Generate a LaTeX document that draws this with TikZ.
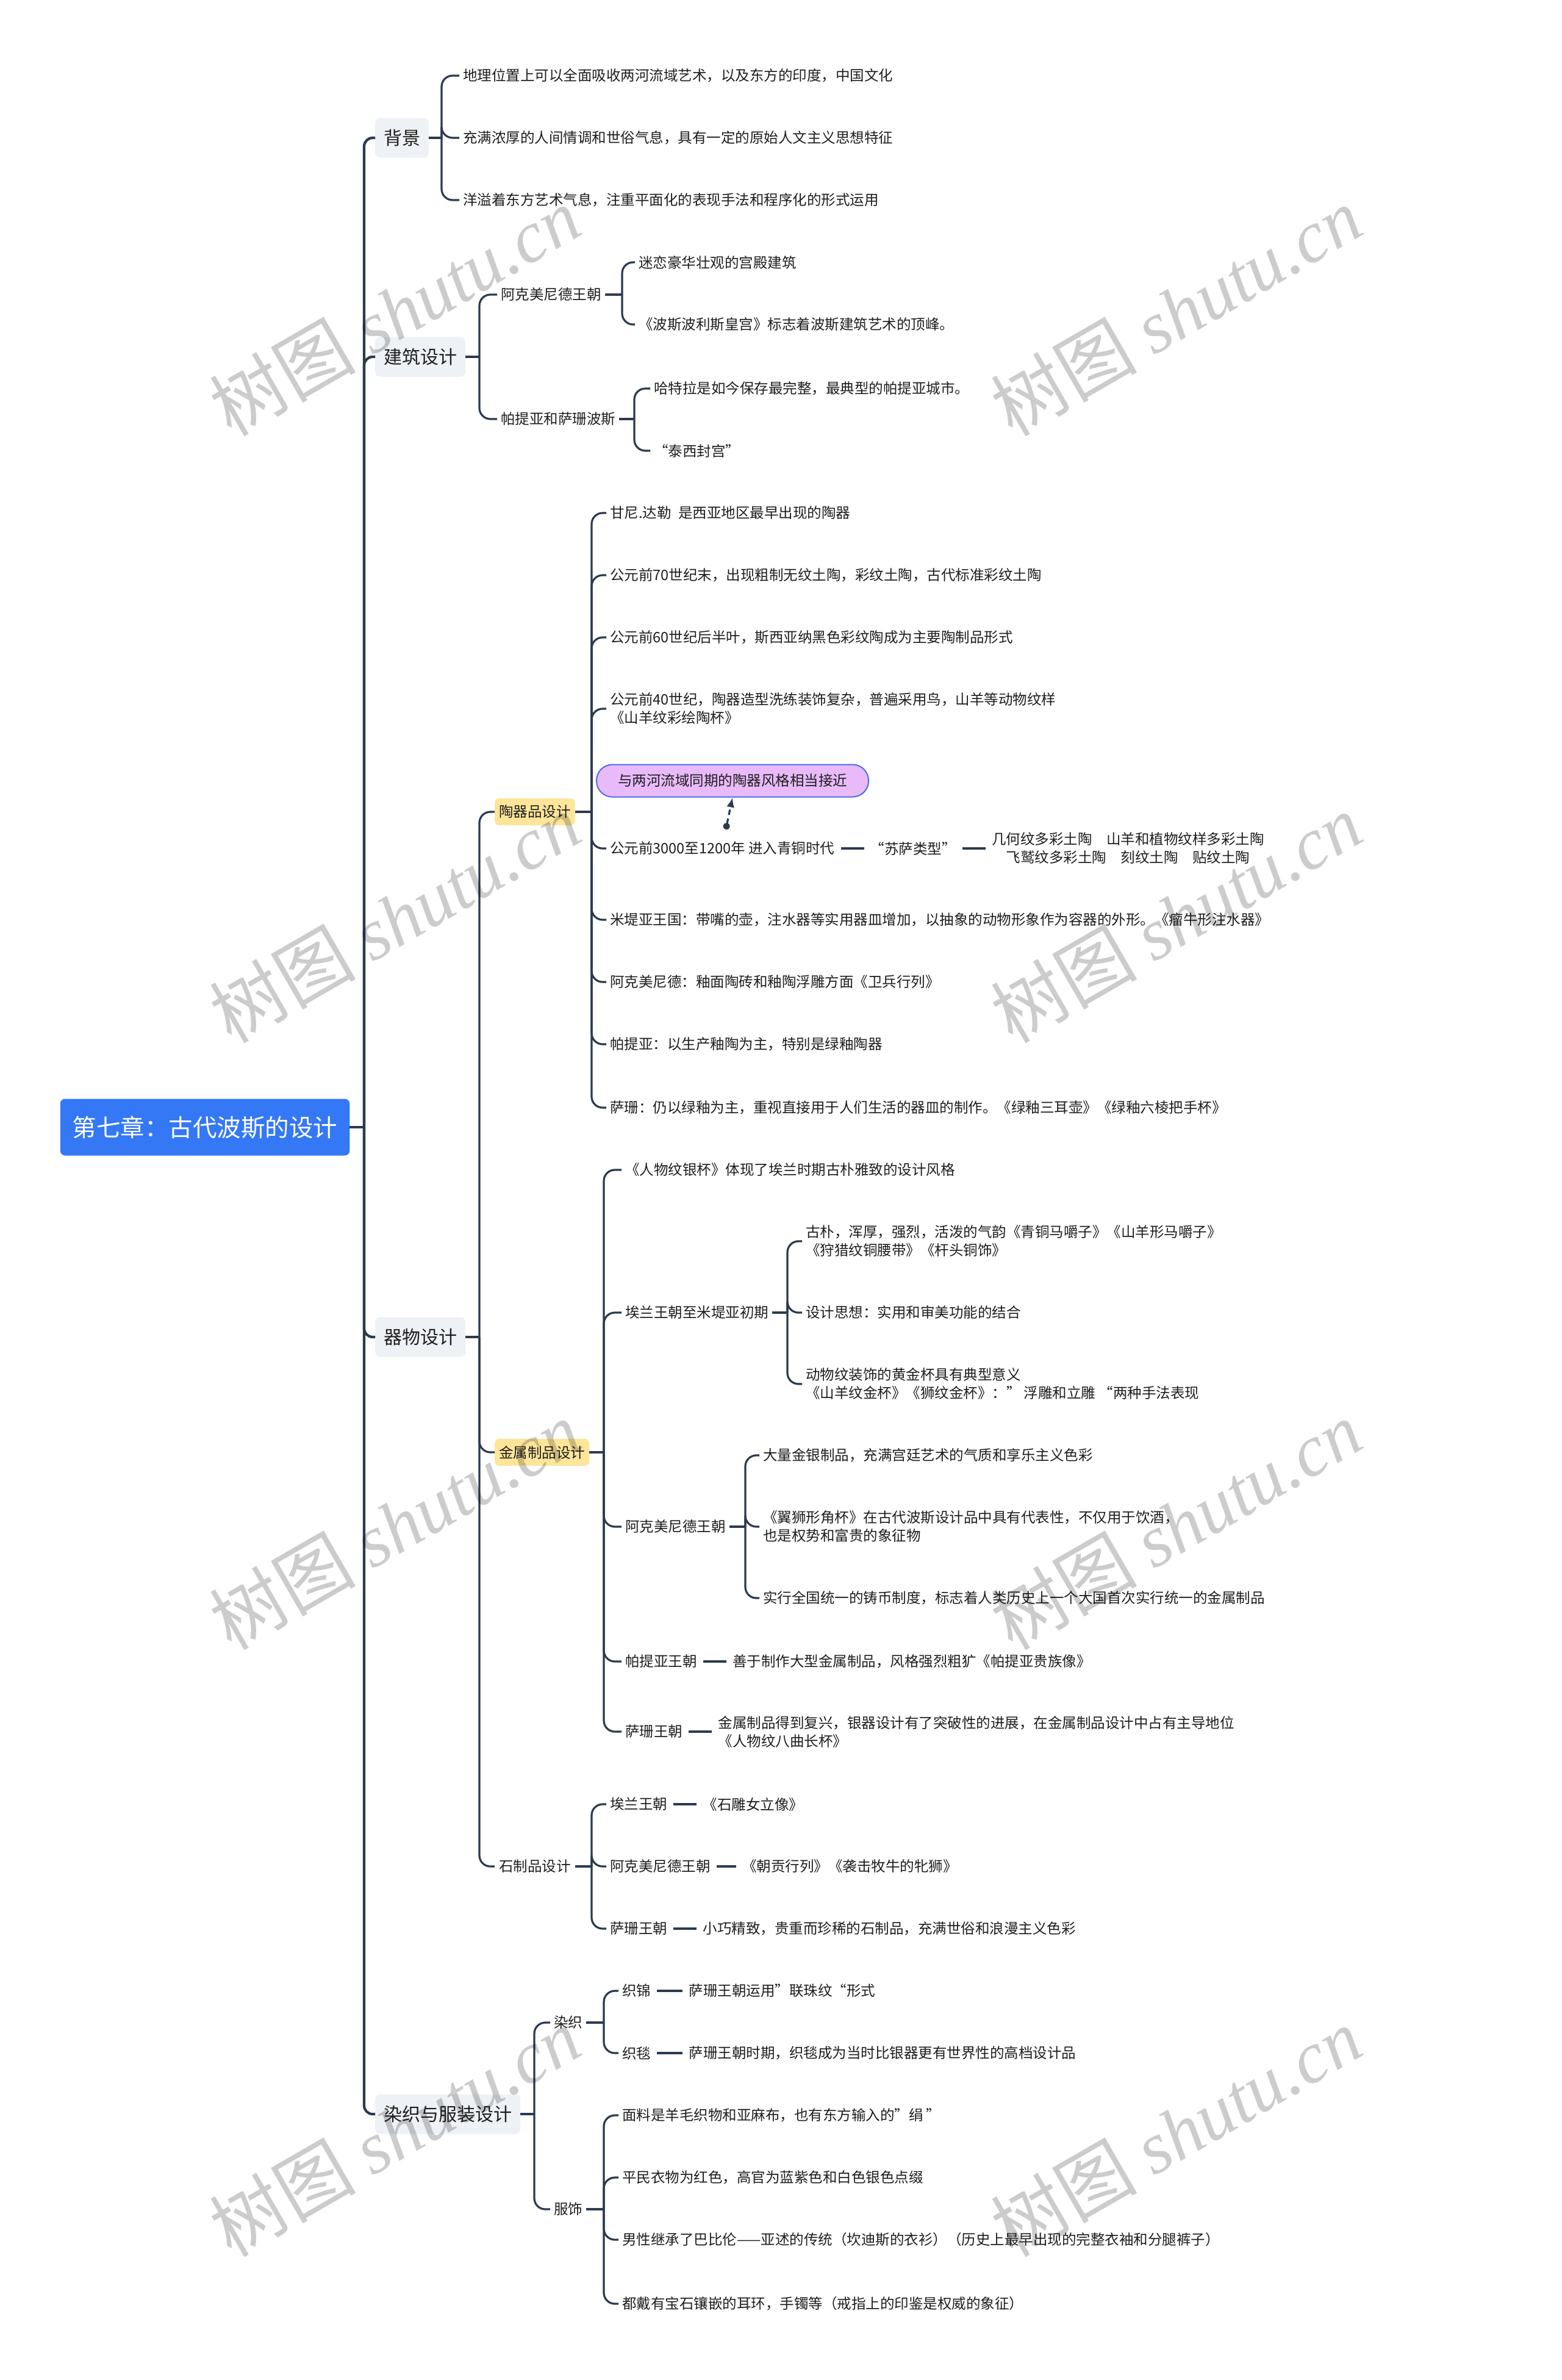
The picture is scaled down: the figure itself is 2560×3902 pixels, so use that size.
\documentclass[tikz,border=0pt]{standalone}
\usepackage{fontspec}
\setmainfont{Noto Sans CJK SC}
\newfontfamily\wmlatin{Liberation Serif}
\usetikzlibrary{arrows.meta,positioning}
\definecolor{rootblue}{RGB}{52,120,246}
\definecolor{topgrey}{RGB}{238,241,245}
\definecolor{potyellow}{RGB}{253,229,153}
\definecolor{notepurple}{RGB}{233,186,250}
\definecolor{noteedge}{RGB}{78,108,228}
\definecolor{linkdark}{RGB}{44,58,78}
\definecolor{inkdark}{RGB}{30,30,30}

\begin{document}
\begin{tikzpicture}[x=1pt,y=-1pt,
  every node/.style={font=\fontsize{23.5}{30}\selectfont,text=inkdark},
  root/.style={fill=rootblue,text=white,rounded corners=8pt,font=\fontsize{39.5}{46}\selectfont,inner xsep=20pt,minimum height=93pt},
  topic/.style={fill=topgrey,rounded corners=8pt,font=\fontsize{30}{36}\selectfont,inner xsep=14pt,minimum height=65pt,anchor=west},
  sub/.style={fill=potyellow,rounded corners=7pt,inner xsep=7pt,minimum height=44pt,anchor=west},
  item/.style={anchor=west,inner sep=6pt,align=left},
  note/.style={fill=notepurple,draw=noteedge,line width=2pt,rounded corners=26pt,inner xsep=35pt,minimum height=53pt},
  ln/.style={linkdark,line width=3.2pt},
  br/.style={linkdark,line width=3.2pt,rounded corners=18pt},
  trunk/.style={linkdark,line width=4.2pt,rounded corners=14pt},
  dashln/.style={linkdark,line width=3.2pt,shorten <=4pt,shorten >=4pt},
  wm/.style={black,opacity=0.2,rotate=30,font=\fontsize{120}{120}\selectfont}]
\fill[white] (0,0) rectangle (2560,3902);
\useasboundingbox (0,0) rectangle (2560,3902);

% root and main topics
\node[root] (ch7) at (336,1848) {第七章：古代波斯的设计};
\node[topic] (bg) at (615,226) {背景};
\node[topic] (arch) at (615,585) {建筑设计};
\node[topic] (ware) at (615,2192) {器物设计};
\node[topic] (tex) at (615,3466) {染织与服装设计};
\coordinate (jch7) at (597,1848);

% background
\coordinate (jbg) at (724,226);
\node[item] (bg1) at (753,124) {地理位置上可以全面吸收两河流域艺术，以及东方的印度，中国文化};
\node[item] (bg2) at (753,226) {充满浓厚的人间情调和世俗气息，具有一定的原始人文主义思想特征};
\node[item] (bg3) at (753,328) {洋溢着东方艺术气息，注重平面化的表现手法和程序化的形式运用};

% architecture
\coordinate (jarch) at (786,585);
\node[item] (ach) at (815,483) {阿克美尼德王朝};
\node[item] (pas) at (815,687) {帕提亚和萨珊波斯};
\coordinate (jach) at (1020,483);
\node[item] (ach1) at (1041,430) {迷恋豪华壮观的宫殿建筑};
\node[item] (ach2) at (1041,532) {《波斯波利斯皇宫》标志着波斯建筑艺术的顶峰。};
\coordinate (jpas) at (1040,687);
\node[item] (pas1) at (1066,637) {哈特拉是如今保存最完整，最典型的帕提亚城市。};
\node[item] (pas2) at (1066,739) {“泰西封宫”};

% ware design
\coordinate (jware) at (786,2192);
\node[sub] (pot) at (811,1331) {陶器品设计};
\node[sub] (metal) at (811,2381) {金属制品设计};
\node[item,inner xsep=7pt] (stone) at (811,3060) {石制品设计};

% pottery
\coordinate (jpot) at (970,1331);
\node[item] (pot1) at (994,841) {甘尼.达勒\hspace{0.5em}是西亚地区最早出现的陶器};
\node[item] (pot2) at (994,943) {公元前70世纪末，出现粗制无纹土陶，彩纹土陶，古代标准彩纹土陶};
\node[item] (pot3) at (994,1045) {公元前60世纪后半叶，斯西亚纳黑色彩纹陶成为主要陶制品形式};
\node[item] (pot4) at (994,1162) {公元前40世纪，陶器造型洗练装饰复杂，普遍采用鸟，山羊等动物纹样\\《山羊纹彩绘陶杯》};
\node[item] (pot5) at (994,1391) {公元前3000至1200年 进入青铜时代};
\node[item,right=46pt of pot5] (pot5a) {“苏萨类型”};
\node[item,right=46pt of pot5a,align=center] (pot5b) {几何纹多彩土陶　山羊和植物纹样多彩土陶\\飞鹫纹多彩土陶　刻纹土陶　贴纹土陶};
\node[note] (potnote) at (1201,1280) {与两河流域同期的陶器风格相当接近};
\coordinate (potdot) at (1190,1360);
\node[item] (pot6) at (994,1508) {米堤亚王国：带嘴的壶，注水器等实用器皿增加，以抽象的动物形象作为容器的外形。《瘤牛形注水器》};
\node[item] (pot7) at (994,1610) {阿克美尼德：釉面陶砖和釉陶浮雕方面《卫兵行列》};
\node[item] (pot8) at (994,1712) {帕提亚：以生产釉陶为主，特别是绿釉陶器};
\node[item] (pot9) at (994,1816) {萨珊：仍以绿釉为主，重视直接用于人们生活的器皿的制作。《绿釉三耳壶》《绿釉六棱把手杯》};

% metal
\coordinate (jmetal) at (990,2381);
\node[item] (met1) at (1019,1918) {《人物纹银杯》体现了埃兰时期古朴雅致的设计风格};
\node[item] (met2) at (1019,2152) {埃兰王朝至米堤亚初期};
\coordinate (jmet2) at (1291,2152);
\node[item] (met2a) at (1315,2035) {古朴，浑厚，强烈，活泼的气韵《青铜马嚼子》《山羊形马嚼子》\\《狩猎纹铜腰带》《杆头铜饰》};
\node[item] (met2b) at (1315,2152) {设计思想：实用和审美功能的结合};
\node[item] (met2c) at (1315,2269) {动物纹装饰的黄金杯具有典型意义\\《山羊纹金杯》《狮纹金杯》：” 浮雕和立雕 “两种手法表现};
\node[item] (met3) at (1019,2503) {阿克美尼德王朝};
\coordinate (jmet3) at (1222,2503);
\node[item] (met3a) at (1245,2386) {大量金银制品，充满宫廷艺术的气质和享乐主义色彩};
\node[item] (met3b) at (1245,2503) {《翼狮形角杯》在古代波斯设计品中具有代表性，不仅用于饮酒，\\也是权势和富贵的象征物};
\node[item] (met3c) at (1245,2620) {实行全国统一的铸币制度，标志着人类历史上一个大国首次实行统一的金属制品};
\node[item] (met4) at (1019,2724) {帕提亚王朝};
\node[item,right=46pt of met4] (met4a) {善于制作大型金属制品，风格强烈粗犷《帕提亚贵族像》};
\node[item] (met5) at (1019,2839) {萨珊王朝};
\node[item,right=46pt of met5] (met5a) {金属制品得到复兴，银器设计有了突破性的进展，在金属制品设计中占有主导地位\\《人物纹八曲长杯》};

% stone
\coordinate (jstone) at (970,3060);
\node[item] (sto1) at (994,2958) {埃兰王朝};
\node[item,right=46pt of sto1] (sto1a) {《石雕女立像》};
\node[item] (sto2) at (994,3060) {阿克美尼德王朝};
\node[item,right=40pt of sto2] (sto2a) {《朝贡行列》《袭击牧牛的牝狮》};
\node[item] (sto3) at (994,3162) {萨珊王朝};
\node[item,right=46pt of sto3] (sto3a) {小巧精致，贵重而珍稀的石制品，充满世俗和浪漫主义色彩};

% textiles and dress
\coordinate (jtex) at (876,3466);
\node[item] (dye) at (902,3316) {染织};
\node[item] (dress) at (902,3622) {服饰};
\coordinate (jdye) at (990,3316);
\node[item] (dye1) at (1014,3264) {织锦};
\node[item,right=50pt of dye1] (dye1a) {萨珊王朝运用”联珠纹“形式};
\node[item] (dye2) at (1014,3366) {织毯};
\node[item,right=50pt of dye2] (dye2a) {萨珊王朝时期，织毯成为当时比银器更有世界性的高档设计品};
\coordinate (jdress) at (990,3622);
\node[item] (dr1) at (1014,3468) {面料是羊毛织物和亚麻布，也有东方输入的”绢 ”};
\node[item] (dr2) at (1014,3570) {平民衣物为红色，高官为蓝紫色和白色银色点缀};
\node[item] (dr3) at (1014,3672) {男性继承了巴比伦——亚述的传统（坎迪斯的衣衫）（历史上最早出现的完整衣袖和分腿裤子）};
\node[item] (dr4) at (1014,3777) {都戴有宝石镶嵌的耳环，手镯等（戒指上的印鉴是权威的象征）};

% trunk
\draw[trunk,rounded corners=0pt] (ch7.east) -- (jch7);
\draw[trunk] (jch7) |- (bg.west);
\draw[trunk] (jch7) |- (arch.west);
\draw[trunk] (jch7) |- (ware.west);
\draw[trunk] (jch7) |- (tex.west);
% background links
\draw[ln] (bg.east) -- (jbg);
\draw[br] (jbg) |- (bg1.west);
\draw[br] (jbg) |- (bg2.west);
\draw[br] (jbg) |- (bg3.west);
% architecture links
\draw[ln] (arch.east) -- (jarch);
\draw[br] (jarch) |- (ach.west);
\draw[br] (jarch) |- (pas.west);
\draw[ln] (ach.east) -- (jach);
\draw[br] (jach) |- (ach1.west);
\draw[br] (jach) |- (ach2.west);
\draw[ln] (pas.east) -- (jpas);
\draw[br] (jpas) |- (pas1.west);
\draw[br] (jpas) |- (pas2.west);
% ware links
\draw[ln] (ware.east) -- (jware);
\draw[br] (jware) |- (pot.west);
\draw[br] (jware) |- (metal.west);
\draw[br] (jware) |- (stone.west);
\draw[ln] (pot.east) -- (jpot);
\draw[br] (jpot) |- (pot1.west);
\draw[br] (jpot) |- (pot2.west);
\draw[br] (jpot) |- (pot3.west);
\draw[br] (jpot) |- (pot4.west);
\draw[br] (jpot) |- (pot5.west);
\draw[br] (jpot) |- (pot6.west);
\draw[br] (jpot) |- (pot7.west);
\draw[br] (jpot) |- (pot8.west);
\draw[br] (jpot) |- (pot9.west);
\draw[dashln] (pot5.east) -- (pot5a.west);
\draw[dashln] (pot5a.east) -- (pot5b.west);
\draw[ln,dash pattern=on 9pt off 6pt,{Circle[length=11pt]}-{Latex[length=16pt,width=13pt]}] (potdot) -- (potnote.south);
\draw[ln] (metal.east) -- (jmetal);
\draw[br] (jmetal) |- (met1.west);
\draw[br] (jmetal) |- (met2.west);
\draw[br] (jmetal) |- (met3.west);
\draw[br] (jmetal) |- (met4.west);
\draw[br] (jmetal) |- (met5.west);
\draw[ln] (met2.east) -- (jmet2);
\draw[br] (jmet2) |- (met2a.west);
\draw[br] (jmet2) |- (met2b.west);
\draw[br] (jmet2) |- (met2c.west);
\draw[ln] (met3.east) -- (jmet3);
\draw[br] (jmet3) |- (met3a.west);
\draw[br] (jmet3) |- (met3b.west);
\draw[br] (jmet3) |- (met3c.west);
\draw[dashln] (met4.east) -- (met4a.west);
\draw[dashln] (met5.east) -- (met5a.west);
\draw[ln] (stone.east) -- (jstone);
\draw[br] (jstone) |- (sto1.west);
\draw[br] (jstone) |- (sto2.west);
\draw[br] (jstone) |- (sto3.west);
\draw[dashln] (sto1.east) -- (sto1a.west);
\draw[dashln] (sto2.east) -- (sto2a.west);
\draw[dashln] (sto3.east) -- (sto3a.west);
% textile links
\draw[ln] (tex.east) -- (jtex);
\draw[br] (jtex) |- (dye.west);
\draw[br] (jtex) |- (dress.west);
\draw[ln] (dye.east) -- (jdye);
\draw[br] (jdye) |- (dye1.west);
\draw[br] (jdye) |- (dye2.west);
\draw[dashln] (dye1.east) -- (dye1a.west);
\draw[dashln] (dye2.east) -- (dye2a.west);
\draw[ln] (dress.east) -- (jdress);
\draw[br] (jdress) |- (dr1.west);
\draw[br] (jdress) |- (dr2.west);
\draw[br] (jdress) |- (dr3.west);
\draw[br] (jdress) |- (dr4.west);

% watermark
\node[wm] (wm1) at (647,510) {树图 {\wmlatin\itshape shutu.cn}};
\node[wm] (wm2) at (1928,510) {树图 {\wmlatin\itshape shutu.cn}};
\node[wm] (wm3) at (647,1505) {树图 {\wmlatin\itshape shutu.cn}};
\node[wm] (wm4) at (1928,1505) {树图 {\wmlatin\itshape shutu.cn}};
\node[wm] (wm5) at (647,2500) {树图 {\wmlatin\itshape shutu.cn}};
\node[wm] (wm6) at (1928,2500) {树图 {\wmlatin\itshape shutu.cn}};
\node[wm] (wm7) at (647,3495) {树图 {\wmlatin\itshape shutu.cn}};
\node[wm] (wm8) at (1928,3495) {树图 {\wmlatin\itshape shutu.cn}};
\end{tikzpicture}
\end{document}
